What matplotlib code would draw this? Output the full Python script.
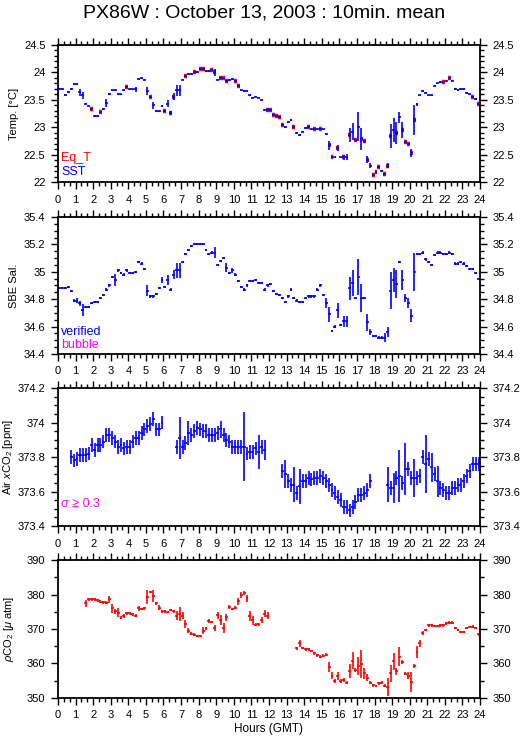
import numpy as np
import matplotlib
matplotlib.use('Agg')
import matplotlib.pyplot as plt
from matplotlib.ticker import MultipleLocator, FuncFormatter

nan = np.nan

# 10-minute means, 144 slots over the day
sst = [23.70, 23.70, 23.59, 23.64, 23.70, 23.79, 23.79, 23.64, 23.58, 23.43, 23.38, 23.33,
       23.21, 23.20, 23.27, 23.33, 23.44, 23.61, 23.67, 23.67, 23.61, 23.60, 23.67, 23.74,
       23.69, 23.69, 23.69, 23.88, 23.89, 23.87, 23.66, 23.55, 23.40, 23.30, 23.30, 23.39,
       23.30, 23.43, 23.26, 23.56, 23.67, 23.67, 23.87, 23.94, 23.98, 23.98, 24.00, 24.01,
       24.06, 24.06, 24.03, 24.03, 24.05, 24.00, 23.87, 23.89, 23.89, 23.85, 23.86, 23.88,
       23.84, 23.75, 23.67, 23.66, 23.66, 23.59, 23.54, 23.56, 23.54, 23.49, 23.32, 23.32,
       23.32, 23.23, 23.21, 23.18, 23.04, 23.00, 23.10, 23.13, 23.01, 22.90, 22.86, 22.92,
       22.98, 23.01, 22.96, 22.96, 22.96, 22.97, 22.96, 22.88, 22.67, 22.45, 22.45, 22.62,
       22.45, 22.45, 22.45, 22.86, 22.92, 22.76, 23.01, 22.79, 22.74, 22.41, 22.30, 22.12,
       22.18, 22.27, 22.20, 22.15, 22.30, 22.84, 22.95, 22.90, 23.18, 22.95, 22.73, 22.69,
       22.53, 23.13, 23.42, 23.58, 23.66, 23.62, 23.58, 23.58, 23.76, 23.80, 23.83, 23.83,
       23.85, 23.89, 23.85, 23.70, 23.68, 23.70, 23.70, 23.62, 23.60, 23.56, 23.52, 23.43]
sst_err_big = {7: 0.065, 8: 0.07, 16: 0.075, 26: 0.05, 30: 0.065, 32: 0.065, 37: 0.07,
               38: 0.03, 39: 0.06, 40: 0.1, 41: 0.1, 53: 0.06, 71: 0.03, 92: 0.08, 95: 0.06,
               97: 0.05, 98: 0.055, 99: 0.13, 100: 0.16, 102: 0.26, 103: 0.2, 104: 0.03,
               105: 0.07, 106: 0.04, 112: 0.05, 113: 0.22, 114: 0.22, 115: 0.2, 116: 0.1,
               117: 0.14, 120: 0.07, 121: 0.27, 122: 0.03}

eqt_slots = [11, 14, 23, 31, 36, 38, 39, 43, 46, 48, 49, 52, 53, 55, 56, 57, 60, 61, 71, 72,
             73, 74, 75, 76, 80, 85, 87, 89, 92, 93, 95, 97, 99, 101, 103, 104, 105, 107,
             108, 109, 111, 112, 113, 115, 117, 118, 119, 120, 121, 131, 133, 141, 143]
eqt = [23.33, 23.27, 23.74, 23.55, 23.30, 23.26, 23.56, 23.94, 24.00, 24.06, 24.06, 24.05,
       24.00, 23.89, 23.89, 23.85, 23.84, 23.75, 23.32, 23.32, 23.23, 23.21, 23.18, 23.04,
       23.01, 23.01, 22.96, 22.97, 22.67, 22.45, 22.62, 22.45, 22.86, 22.76, 22.79, 22.74,
       22.41, 22.12, 22.18, 22.27, 22.15, 22.30, 22.84, 22.90, 22.95, 22.73, 22.69, 22.53,
       23.13, 23.83, 23.89, 23.56, 23.43]

sal = [34.88, 34.88, 34.88, 34.89, 34.86, 34.79, 34.79, 34.77, 34.72, 34.74, 34.74, 34.77,
       34.78, 34.78, 34.81, 34.83, 34.87, 34.90, 34.96, 34.94, 35.01, 34.99, 34.98, 35.01,
       34.99, 34.99, 35.00, 35.07, 35.06, 35.02, 34.86, 34.82, 34.82, 34.84, 34.88, 34.94,
       34.89, 34.94, 34.87, 34.98, 35.01, 35.01, 35.07, 35.13, 35.16, 35.19, 35.20, 35.20,
       35.20, 35.20, 35.16, 35.13, 35.14, 35.14, 35.05, 35.08, 35.10, 35.03, 34.99, 35.01,
       34.98, 34.93, 34.89, 34.87, 34.90, 34.93, 34.93, 34.94, 34.92, 34.92, 34.87, 34.90,
       34.91, 34.86, 34.84, 34.83, 34.81, 34.78, 34.82, 34.87, 34.81, 34.79, 34.78, 34.78,
       34.81, 34.82, 34.82, 34.82, 34.87, 34.90, 34.83, 34.77, 34.69, 34.57, 34.60, 34.72,
       34.61, 34.64, 34.64, 34.88, 34.92, 34.81, 34.96, 34.81, 34.81, 34.63, 34.56, 34.53,
       34.53, 34.52, 34.52, 34.52, 34.56, 34.86, 34.94, 34.91, 35.07, 34.94, 34.81, 34.77,
       34.68, 35.00, 35.13, 35.13, 35.14, 35.09, 35.07, 35.05, 35.12, 35.14, 35.14, 35.13,
       35.13, 35.14, 35.13, 35.06, 35.06, 35.07, 35.06, 35.04, 35.02, 35.02, 34.99, 34.95]
sal_err_big = {6: 0.02, 7: 0.02, 8: 0.045, 19: 0.045, 30: 0.04, 35: 0.02, 37: 0.04,
               39: 0.035, 40: 0.055, 41: 0.055, 53: 0.04, 57: 0.035, 59: 0.02, 91: 0.035,
               92: 0.055, 95: 0.055, 97: 0.04, 98: 0.04, 99: 0.085, 100: 0.095, 102: 0.13,
               103: 0.1, 105: 0.06, 106: 0.02, 111: 0.03, 112: 0.035, 113: 0.135,
               114: 0.085, 115: 0.1, 117: 0.075, 118: 0.03, 119: 0.035, 120: 0.045, 121: 0.14}

xco2 = ([nan] * 4 +
        [373.80, 373.78, 373.79, 373.81, 373.81, 373.81, 373.82, 373.87, 373.84, 373.87,
         373.87, 373.89, 373.93, 373.93, 373.91, 373.89, 373.86, 373.87, 373.85, 373.86,
         373.86, 373.89, 373.91, 373.91, 373.94, 373.96, 373.98, 373.99, 374.02, 373.96,
         373.96, 374.00] +
        [nan] * 4 +
        [373.86, 373.91, 373.86, 373.88, 373.94, 373.93, 373.95, 373.97, 373.96, 373.95,
         373.95, 373.93, 373.93, 373.93, 373.94, 373.96, 373.93, 373.90, 373.89, 373.86,
         373.86, 373.86, 373.86, 373.86, 373.82, 373.83, 373.83, 373.85, 373.83, 373.86,
         373.84] +
        [nan] * 5 +
        [373.72, 373.70, 373.66, 373.64, 373.64, 373.59, 373.63, 373.66, 373.66, 373.68,
         373.67, 373.68, 373.68, 373.69, 373.68, 373.66, 373.64, 373.61, 373.59, 373.57,
         373.55, 373.51, 373.51, 373.49, 373.51, 373.54, 373.58, 373.58, 373.59, 373.61,
         373.66] +
        [nan] * 5 +
        [373.64, 373.62, 373.62, 373.68, 373.69, 373.65, 373.73, 373.73, 373.68, 373.68,
         373.68, 373.69, 373.80, 373.76, 373.79, 373.74, 373.70, 373.66, 373.62, 373.61,
         373.59, 373.59, 373.62, 373.62, 373.64, 373.64, 373.66, 373.69, 373.72, 373.76,
         373.76, 373.76])
xco2_err_big = {41: 0.12, 44: 0.07, 55: 0.05, 63: 0.2, 68: 0.1, 70: 0.06, 77: 0.08,
                80: 0.1, 82: 0.1, 112: 0.1, 114: 0.085, 116: 0.15, 118: 0.15, 121: 0.11,
                125: 0.17, 127: 0.085, 129: 0.09}

pco2 = ([nan] * 9 +
        [377.5, 378.6, 378.6, 378.6, 378.3, 377.9, 377.7, 377.6, 378.6, 376.0, 375.1, 374.7,
         373.3, 373.8, 374.6, 374.5, 374.3, 373.9, 376.0, 375.8, 376.0, 379.2, 380.8, 379.5,
         377.5, 376.2, 375.0, 375.1, 374.9, 375.5, 375.1, 373.9, 374.3, 373.8, 371.4, 369.5,
         368.6, 368.3, 368.0, 368.0, 369.5, 370.1, 372.2, 372.0, 370.3, 374.0, 372.6, 370.2,
         373.4, 376.3, 375.8, 376.2, 378.0, 379.9, 380.5, 378.9, 373.8, 372.5, 371.2, 371.4,
         372.6, 374.4, 373.8] +
        [nan] * 9 +
        [364.4, 365.9, 364.5, 364.1, 364.1, 363.6, 362.9, 362.4, 362.0, 362.3, 362.6, 358.9,
         356.5, 354.9, 356.3, 355.0, 355.1, 354.4, 357.8, 360.8, 358.1, 359.3, 359.9, 357.1,
         355.9, 354.4, 353.7, 353.5, 354.2, 354.4, 353.6, 353.2, 357.2, 360.6, 357.7, 362.0,
         360.5, 357.0, 356.4, 354.6, 359.3, 363.4, 365.9, 368.8, 369.7, 371.1, 371.1, 370.9,
         370.9, 371.1, 371.1, 371.7, 371.8, 371.8, 370.3, 369.7, 369.1, 369.1, 370.3, 370.6,
         370.7, 370.3, 368.5])
pco2_err_big = {9: 1.0, 17: 1.0, 18: 1.3, 19: 0.8, 20: 1.3, 22: 0.6, 27: 0.8, 30: 2.0,
                31: 0.3, 32: 1.8, 34: 0.8, 40: 1.2, 41: 2.0, 42: 1.0, 43: 1.2, 44: 0.8,
                49: 1.0, 51: 0.6, 53: 1.0, 54: 1.0, 55: 1.5, 56: 1.5, 57: 1.0, 58: 0.6,
                61: 1.0, 62: 0.8, 63: 0.6, 64: 1.0, 65: 1.5, 66: 1.3, 69: 0.8, 70: 1.0,
                71: 1.0, 82: 1.0, 92: 1.5, 93: 1.0, 94: 0.6, 95: 1.2, 96: 0.6, 97: 0.6,
                99: 2.0, 100: 2.5, 101: 0.6, 102: 2.5, 103: 4.0, 104: 1.5, 105: 1.0,
                112: 2.5, 113: 2.5, 114: 2.5, 115: 1.0, 116: 2.8, 117: 0.6, 119: 1.0,
                120: 2.8, 121: 0.5, 122: 1.8, 123: 1.0, 124: 0.6}

plt.rcParams['font.family'] = ['Liberation Sans', 'DejaVu Sans']
plt.rcParams['mathtext.fontset'] = 'custom'
plt.rcParams['mathtext.rm'] = 'Liberation Sans'
plt.rcParams['mathtext.it'] = 'Liberation Sans:italic'

BLUE = '#0000ff'
RED = '#ff0000'
MAGENTA = '#ff00ff'

hours = (np.arange(144) + 0.5) / 6.0
half_slot = 1.0 / 12.0


def errs(default, big):
    e = np.full(144, default)
    for k, v in big.items():
        e[k] = v
    return e


def style(ax, ylim, major, minor, ylabel, label_x):
    ax.set_xlim(0, 24)
    ax.set_ylim(*ylim)
    ax.xaxis.set_major_locator(MultipleLocator(1))
    ax.xaxis.set_minor_locator(MultipleLocator(1 / 3))
    ax.yaxis.set_major_locator(MultipleLocator(major))
    ax.yaxis.set_minor_locator(MultipleLocator(minor))
    ax.yaxis.set_major_formatter(FuncFormatter(lambda v, p: '%g' % round(v, 3)))
    ax.tick_params(which='both', direction='out', top=True, right=True,
                   labelright=True, labelsize=8, width=1)
    ax.tick_params(which='major', length=5, pad=4)
    ax.tick_params(which='minor', length=3)
    for s in ax.spines.values():
        s.set_linewidth(1.3)
    ax.set_ylabel(ylabel, fontsize=8)
    ax.yaxis.set_label_coords(label_x, 0.5)


fig = plt.figure(figsize=(5.29, 7.39), dpi=100)
left, width = 0.1096, 0.7978
ax1 = fig.add_axes([left, 0.7537, width, 0.1854])
ax2 = fig.add_axes([left, 0.5210, width, 0.1854])
ax3 = fig.add_axes([left, 0.2882, width, 0.1867])
ax4 = fig.add_axes([left, 0.0555, width, 0.1867])

fig.text(0.5, 0.983, 'PX86W : October 13, 2003 : 10min. mean', ha='center', va='center',
         fontsize=14)

# temperature
ax1.errorbar(hours[eqt_slots], eqt, xerr=half_slot, fmt='none', ecolor=RED,
             elinewidth=3.2, capsize=0, zorder=2)
ax1.errorbar(hours, sst, xerr=half_slot, yerr=errs(0.015, sst_err_big), fmt='none',
             ecolor=BLUE, elinewidth=1.2, capsize=0, zorder=3)
style(ax1, (22, 24.5), 0.5, 0.1, 'Temp. [°C]', -0.093)
ax1.text(0.007, 0.175, 'Eq_T', color=RED, fontsize=9, va='center', transform=ax1.transAxes)
ax1.text(0.007, 0.073, 'SST', color=BLUE, fontsize=9, va='center', transform=ax1.transAxes)

# salinity
ax2.errorbar(hours, sal, xerr=half_slot, yerr=errs(0.008, sal_err_big), fmt='none',
             ecolor=BLUE, elinewidth=1.2, capsize=0)
style(ax2, (34.4, 35.4), 0.2, 0.05, 'SBE Sal.', -0.093)
ax2.text(0.007, 0.16, 'verified', color=BLUE, fontsize=9, va='center', transform=ax2.transAxes)
ax2.text(0.007, 0.066, 'bubble', color=MAGENTA, fontsize=9, va='center',
         transform=ax2.transAxes)

# air xCO2
ax3.errorbar(hours, xco2, xerr=half_slot, yerr=errs(0.04, xco2_err_big), fmt='none',
             ecolor=BLUE, elinewidth=1.2, capsize=0)
style(ax3, (373.4, 374.2), 0.2, 0.05, r'Air $x$CO$_2$ [ppm]', -0.102)
ax3.text(0.007, 0.16, 'σ ≥ 0.3', color=MAGENTA, fontsize=9, va='center',
         transform=ax3.transAxes)

# seawater pCO2
ax4.errorbar(hours, pco2, xerr=half_slot, yerr=errs(0.4, pco2_err_big), fmt='none',
             ecolor=RED, elinewidth=1.2, capsize=0)
style(ax4, (350, 390), 10, 5, r'$\rho$CO$_2$ [$\mu$ atm]', -0.1)
ax4.set_xlabel('Hours (GMT)', fontsize=8.5, labelpad=2)

fig.savefig('out.png', dpi=100)
